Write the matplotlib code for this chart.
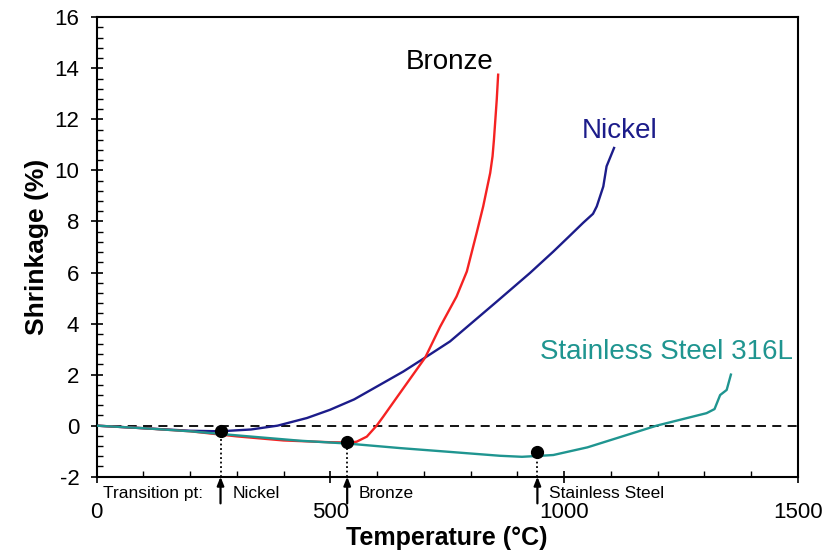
import matplotlib.pyplot as plt
import numpy as np

plt.rcParams['font.family'] = ['Liberation Sans', 'DejaVu Sans']
plt.rcParams['axes.unicode_minus'] = False

# shrinkage curves (temperature in degC, shrinkage in %)
bronze_t = [0, 100, 200, 300, 400, 500, 540, 556, 578, 599, 613, 642, 703, 735, 770, 792, 813, 827, 842, 847, 850, 856, 859]
bronze_s = [0, -0.1, -0.22, -0.42, -0.58, -0.65, -0.66, -0.63, -0.43, 0, 0.35, 1.1, 2.67, 3.88, 5.06, 6.04, 7.55, 8.59, 9.9, 10.55, 11.2, 12.77, 13.75]

nickel_t = [0, 100, 200, 265, 330, 387, 450, 499, 551, 606, 656, 703, 756, 806, 856, 927, 977, 1010, 1041, 1062, 1070, 1084, 1091, 1107]
nickel_s = [0, -0.1, -0.2, -0.22, -0.15, 0, 0.3, 0.62, 1.03, 1.6, 2.12, 2.67, 3.3, 4.08, 4.86, 5.98, 6.82, 7.4, 7.95, 8.3, 8.59, 9.37, 10.16, 10.88]

ss_t = [0, 100, 200, 300, 435, 536, 650, 750, 863, 910, 950, 977, 1050, 1198, 1305, 1322, 1334, 1348, 1357]
ss_s = [0, -0.1, -0.22, -0.38, -0.59, -0.7, -0.88, -1.02, -1.18, -1.22, -1.18, -1.15, -0.85, 0, 0.49, 0.65, 1.2, 1.4, 2.0]

# transition points
trans_names = ['Nickel', 'Bronze', 'Stainless Steel']
trans_t = [265, 536, 943]
trans_s = [-0.21, -0.63, -1.02]

red = '#f52222'
navy = '#1c1c8a'
teal = '#1f9590'

fig = plt.figure(figsize=(8.27, 5.52), dpi=100)
ax = fig.add_axes([0.1169, 0.1364, 0.8477, 0.8323])

ax.axhline(0, color='black', lw=1.3, ls=(0, (5, 3.5)), zorder=1)
ax.plot(ss_t, ss_s, color=teal, lw=1.7, zorder=3)
ax.plot(nickel_t, nickel_s, color=navy, lw=1.7, zorder=2)
ax.plot(bronze_t, bronze_s, color=red, lw=1.7, zorder=2)

ax.text(756, 14.26, 'Bronze', color='black', fontsize=20, ha='center', va='center')
ax.text(1118, 11.56, 'Nickel', color=navy, fontsize=20, ha='center', va='center')
ax.text(1219, 2.89, 'Stainless Steel 316L', color=teal, fontsize=20, ha='center', va='center')

# transition markers with arrows below the axis
ax.plot(trans_t, trans_s, 'o', color='black', ms=8.5, zorder=5)
for t, s, name in zip(trans_t, trans_s, trans_names):
    ax.plot([t, t], [-2, s], color='black', lw=1.3, ls=(0, (1, 1.5)), zorder=4)
    ax.annotate('', xy=(t, 0), xycoords=('data', 'axes fraction'),
                xytext=(t, -0.058), textcoords=('data', 'axes fraction'),
                arrowprops=dict(arrowstyle='-|>,head_length=0.5,head_width=0.2',
                                color='black', lw=1.6, shrinkA=0, shrinkB=0),
                annotation_clip=False)
    ax.text(t + 25, -0.036, name, transform=ax.get_xaxis_transform(),
            fontsize=12.5, ha='left', va='center', clip_on=False)
ax.text(13, -0.036, 'Transition pt:', transform=ax.get_xaxis_transform(),
        fontsize=12.5, ha='left', va='center', clip_on=False)

ax.set_xlim(0, 1500)
ax.set_ylim(-2, 16)
ax.set_xticks([0, 500, 1000, 1500])
ax.set_xticks(np.arange(0, 1501, 100), minor=True)
ax.set_yticks(np.arange(-2, 17, 2))
ax.set_yticks(np.arange(-2, 16.01, 0.4), minor=True)

ax.tick_params(which='major', direction='inout', length=9, width=1.2, labelsize=16)
ax.tick_params(which='minor', direction='in', length=4, width=1)
ax.tick_params(axis='x', pad=14)
ax.tick_params(axis='y', pad=8)
for sp in ax.spines.values():
    sp.set_linewidth(1.5)

ax.set_xlabel('Temperature (\u00b0C)', fontsize=18, fontweight='bold', labelpad=2)
ax.set_ylabel('Shrinkage (%)', fontsize=19, fontweight='bold', labelpad=4)

fig.savefig('out.png', dpi=100)
